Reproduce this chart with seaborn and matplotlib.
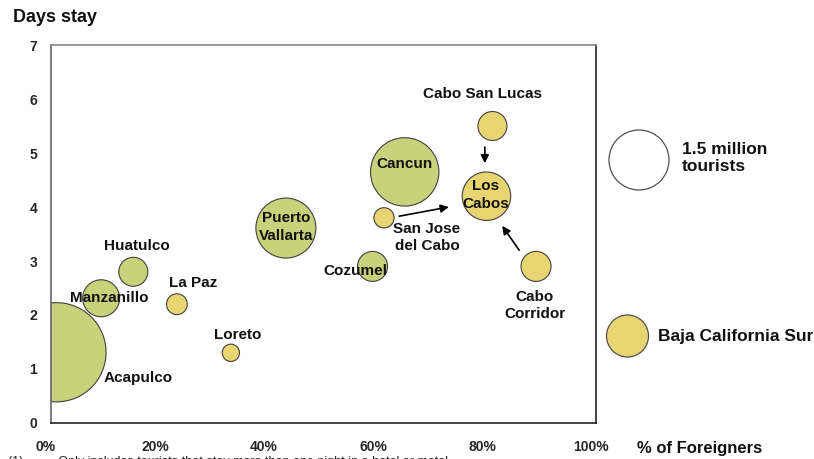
import matplotlib
matplotlib.use("Agg")
import matplotlib.pyplot as plt
import matplotlib.transforms as mtransforms
import seaborn as sns
import pandas as pd
from matplotlib.ticker import FuncFormatter

sns.set_theme(style="white")
plt.rcParams['font.family'] = ['Liberation Sans', 'DejaVu Sans']

# ---- data ----
destinations = ["Acapulco", "Manzanillo", "Huatulco", "La Paz", "Loreto",
                "Puerto Vallarta", "Cancun", "San Jose del Cabo", "Cozumel",
                "Cabo San Lucas", "Los Cabos", "Cabo Corridor"]
pct_foreigners = [1.0, 9.2, 15.1, 23.1, 33.0, 43.1, 64.9, 61.1, 59.0, 81.0, 79.9, 89.0]
days_stay = [1.31, 2.31, 2.8, 2.2, 1.3, 3.61, 4.65, 3.8, 2.9, 5.5, 4.2, 2.9]
tourists_m = [4.1, 0.57, 0.35, 0.18, 0.125, 1.5, 1.95, 0.17, 0.375, 0.35, 0.98, 0.375]
region = ["Other", "Other", "Other", "Baja California Sur", "Baja California Sur",
          "Other", "Other", "Baja California Sur", "Other",
          "Baja California Sur", "Baja California Sur", "Baja California Sur"]

labels = ["Acapulco", "Manzanillo", "Huatulco", "La Paz", "Loreto",
          "Puerto\nVallarta", "Cancun", "San Jose\ndel Cabo", "Cozumel",
          "Cabo San Lucas", "Los\nCabos", "Cabo\nCorridor"]
label_x = [16.0, 10.6, 15.8, 26.1, 34.2, 43.1, 64.8, 69.0, 55.8, 79.1, 79.8, 88.8]
label_y = [0.83, 2.31, 3.28, 2.59, 1.63, 3.63, 4.8, 3.43, 2.81, 6.09, 4.22, 2.17]

x_ticks = [0, 20, 40, 60, 80, 100]
y_ticks = [0, 1, 2, 3, 4, 5, 6, 7]

legend_tourists = 1.5

# arrows (start -> end) toward Los Cabos
arrow_start = [(63.9, 3.83), (79.6, 5.11), (85.9, 3.2)]
arrow_end = [(73.0, 4.0), (79.6, 4.81), (82.8, 3.65)]

GREEN = "#C8D27A"
YELLOW = "#E8D572"

df = pd.DataFrame({"dest": destinations, "x": pct_foreigners, "y": days_stay,
                   "t": tourists_m, "region": region})

fig = plt.figure(figsize=(8.14, 4.59), dpi=100)
ax = fig.add_axes([51/814, 36/459, 545/814, 378/459])

# size: 1.5 million -> radius 30 px -> diameter 43.2 pt -> s = 1866 pt^2
S_PER_M = 1866 / 1.5
sns.scatterplot(data=df, x="x", y="y", hue="region", size="t",
                sizes=(0, S_PER_M * 10), size_norm=(0, 10),
                palette={"Other": GREEN, "Baja California Sur": YELLOW},
                edgecolor="#404040", linewidth=0.8, alpha=1, legend=False,
                ax=ax, zorder=2)

for lab, lx, ly in zip(labels, label_x, label_y):
    ax.text(lx, ly, lab, ha="center", va="center", fontsize=11,
            fontweight="bold", color="#111111", zorder=4, linespacing=1.3)

for (sx, sy), (ex, ey) in zip(arrow_start, arrow_end):
    ax.annotate("", xy=(ex, ey), xytext=(sx, sy),
                arrowprops=dict(arrowstyle="-|>", color="black", lw=1.2,
                                mutation_scale=12, shrinkA=0, shrinkB=0),
                zorder=4)

ax.set_xlim(0, 100)
ax.set_ylim(0, 7)
ax.set_xticks(x_ticks)
ax.set_yticks(y_ticks)
ax.xaxis.set_major_formatter(FuncFormatter(lambda v, p: f"{int(v)}%"))
ax.tick_params(axis="both", which="major", length=4, width=1, color="#333333",
               direction="out", labelsize=10)
ax.tick_params(axis="x", pad=8)
ax.tick_params(axis="y", pad=6)
offset = mtransforms.ScaledTranslation(-5/100, 0, fig.dpi_scale_trans)
for lbl in ax.get_xticklabels():
    lbl.set_fontweight("bold")
    lbl.set_transform(lbl.get_transform() + offset)
for lbl in ax.get_yticklabels():
    lbl.set_fontweight("bold")
ax.set_xlabel("")
ax.set_ylabel("")
for side in ["left", "bottom", "right"]:
    ax.spines[side].set_color("#222222")
    ax.spines[side].set_linewidth(1.2)
ax.spines["top"].set_color("#888888")
ax.spines["top"].set_linewidth(1.2)
ax.spines["left"].set_color("#666666")

fig.text(13/814, 1 - 18/459, "Days stay", fontsize=13, fontweight="bold",
         ha="left", va="center", color="#111111")
fig.text(637/814, 1 - 449/459, "% of Foreigners", fontsize=12, fontweight="bold",
         ha="left", va="center", color="#111111")

# legend bubbles in figure space
lax = fig.add_axes([0, 0, 1, 1], facecolor="none")
leg = pd.DataFrame({"x": [639, 627.5], "y": [160, 336], "kind": ["size", "bcs"],
                    "t": [legend_tourists, 0.735]})
sns.scatterplot(data=leg, x="x", y="y", hue="kind", size="t",
                sizes=(0, S_PER_M * 10), size_norm=(0, 10),
                palette={"size": "white", "bcs": YELLOW},
                edgecolor="#505050", linewidth=0.9, legend=False,
                ax=lax)
lax.set_xlim(0, 814)
lax.set_ylim(459, 0)
lax.axis("off")
lax.text(682, 158, "1.5 million\ntourists", fontsize=12.5, fontweight="bold",
         ha="left", va="center", color="#111111", linespacing=1.15)
lax.text(658, 337, "Baja California Sur", fontsize=12.5, fontweight="bold",
         ha="left", va="center", color="#111111")
lax.text(8, 462, "(1)          Only includes tourists that stay more than one night in a hotel or motel",
         fontsize=9, ha="left", va="center", color="#222222")

fig.savefig("out.png", dpi=100)
